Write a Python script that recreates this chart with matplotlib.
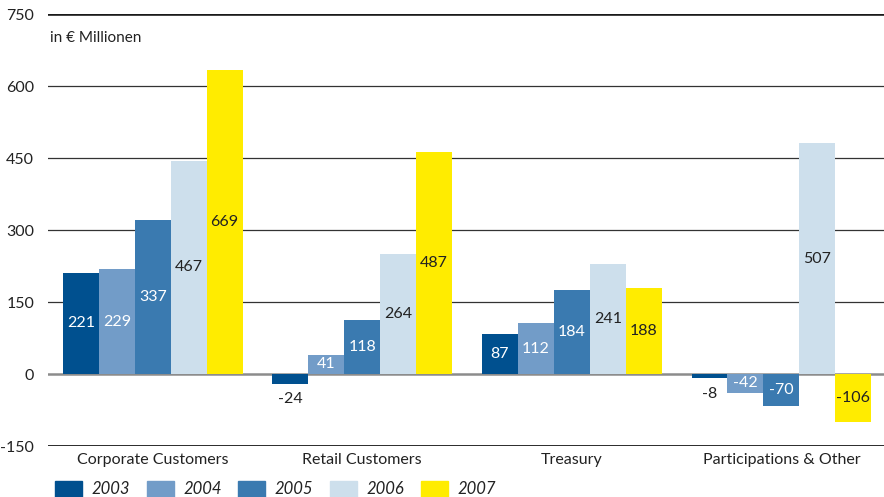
import matplotlib
matplotlib.use("Agg")
import matplotlib.pyplot as plt
import numpy as np
from matplotlib.patches import Rectangle

plt.rcParams["font.family"] = ["Lato", "DejaVu Sans"]

CATEGORIES = ["Corporate Customers", "Retail Customers", "Treasury",
              "Participations & Other"]
YEARS = ["2003", "2004", "2005", "2006", "2007"]
# printed values per year (labels)
LABELS = {
    "2003": [221, -24, 87, -8],
    "2004": [229, 41, 112, -42],
    "2005": [337, 118, 184, -70],
    "2006": [467, 264, 241, 507],
    "2007": [669, 487, 188, -106],
}
# bar heights as drawn in the picture (scale differs slightly from labels)
HEIGHTS = {
    "2003": [211, -21, 83, -9],
    "2004": [218, 40, 106, -39],
    "2005": [321, 112, 175, -66],
    "2006": [444, 250, 229, 481],
    "2007": [633, 462, 179, -99],
}
COLORS = {"2003": "#00508f", "2004": "#729cc8", "2005": "#3a7ab0",
          "2006": "#cddfec", "2007": "#ffec00"}
TEXT_COLORS = {"2003": "white", "2004": "white", "2005": "white",
               "2006": "#222222", "2007": "#222222"}
YTICKS = [-150, 0, 150, 300, 450, 600, 750]

fig = plt.figure(figsize=(8.84, 4.97), dpi=100)
ax = fig.add_axes([48 / 884, 51 / 497, 836 / 884, 432 / 497])

x = np.arange(len(CATEGORIES))
width = 36 / 210
for i, yr in enumerate(YEARS):
    xs = x + (i - 2) * width
    hs = HEIGHTS[yr]
    ax.bar(xs, hs, width, color=COLORS[yr], zorder=3)
    for xi, h, lab in zip(xs, hs, LABELS[yr]):
        if abs(h) < 30:
            # too small for the label: put it below the bar
            ax.annotate(str(lab), (xi, min(h, 0)), xytext=(0, -11),
                        textcoords="offset points", ha="center",
                        va="center", fontsize=11.5, color="#222222",
                        zorder=4)
        else:
            ax.text(xi, h / 2, str(lab), ha="center", va="center",
                    fontsize=11.5, color=TEXT_COLORS[yr], zorder=4)

for v in [150, 300, 450, 600]:
    ax.axhline(v, color="#333333", lw=0.9, zorder=1)
ax.axhline(0, color="#8c8c8c", lw=1.8, zorder=2)
ax.axhline(750, color="#1a1a1a", lw=2.6, zorder=2)
ax.axhline(-150, color="#1a1a1a", lw=1.3, zorder=2)

ax.set_xlim(-0.5, 3.49)
ax.set_ylim(-150, 750)
ax.set_yticks(YTICKS)
ax.set_yticklabels([str(t) for t in YTICKS], fontsize=11.5, color="#222222")
ax.tick_params(axis="y", length=0, pad=10)
ax.set_xticks(x)
ax.set_xticklabels(CATEGORIES, fontsize=11.5, color="#222222")
ax.tick_params(axis="x", length=0, pad=5)
for s in ax.spines.values():
    s.set_visible(False)

ax.text(2 / 836, 0.945, "in € Millionen", transform=ax.transAxes,
        fontsize=11, color="#222222", ha="left", va="center")

# legend row at the bottom
for i, yr in enumerate(YEARS):
    x0 = (55 + 91.5 * i) / 884
    fig.patches.append(Rectangle((x0, 0), 27 / 884, 16 / 497,
                                 transform=fig.transFigure,
                                 color=COLORS[yr]))
    fig.text(x0 + 37 / 884, 8 / 497, yr, fontsize=12, style="italic",
             color="#222222", ha="left", va="center")

fig.savefig("out.png", dpi=100)
